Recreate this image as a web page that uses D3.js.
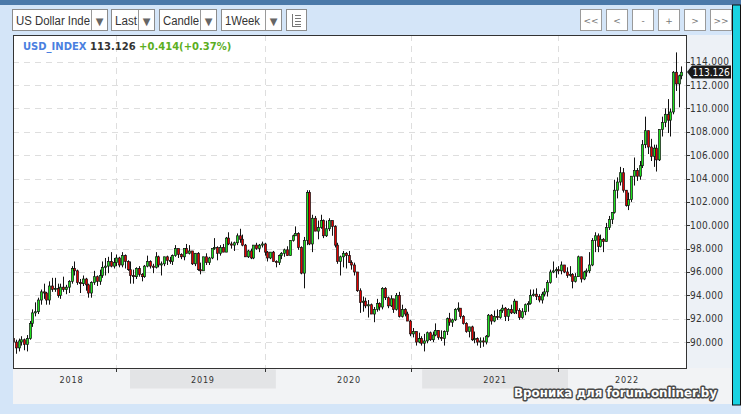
<!DOCTYPE html>
<html><head><meta charset="utf-8">
<script src="https://cdn.jsdelivr.net/npm/d3@7"></script>
<style>html,body{margin:0;padding:0;background:#d4e5f8;overflow:hidden}</style>
</head><body><svg id="c" width="741" height="414"></svg>
<script>
// ---------- data ----------
const symbol = "USD_INDEX", lastPrice = 113.126, change = 0.414, changePct = 0.37;
const yTicks = [90, 92, 94, 96, 98, 100, 102, 104, 106, 108, 110, 112, 114];
const yearLabels = ["2018", "2019", "2020", "2021", "2022"];
const yearStartsCal = ["2018-01-01", "2019-01-01", "2020-01-01", "2021-01-01", "2022-01-01", "2023-01-01"];
const gridDates = ["2018-11-28", "2019-12-04", "2020-12-04", "2021-12-06"];
const weekStarts = ["2018-03-12", "2019-01-07", "2020-01-06", "2021-01-04", "2022-01-03"];
const toolbarLabels = ["US Dollar Inde", "Last", "Candle", "1Week"];
const navButtons = ["<<", "<", "-", "+", ">", ">>"];
// weekly candles [open, high, low, close]
const c2018 = [[90.3,90.4,89.7,90.0],[90.0,90.2,89.0,89.5],[89.5,90.3,89.2,90.1],[90.0,90.5,89.7,90.2],[90.2,90.3,89.3,89.8],[89.8,90.6,89.2,90.3],[90.3,91.8,90.2,91.6],[91.6,92.8,91.3,92.5],[92.5,93.4,92.2,92.6],[92.6,93.8,92.4,93.6],[93.6,94.5,93.2,94.3],[94.3,95.0,93.7,94.2],[94.2,94.3,93.2,93.6],[93.6,95.2,93.2,94.8],[94.8,95.5,94.3,94.5],[94.5,95.5,94.3,94.6],[94.6,95.0,93.8,94.0],[94.0,95.0,93.7,94.7],[94.7,95.6,94.3,94.5],[94.5,94.9,94.1,94.7],[94.7,95.3,94.2,95.2],[95.2,96.5,95.0,96.3],[96.3,96.9,95.7,96.1],[96.1,96.2,94.9,95.1],[95.1,95.4,94.2,95.0],[95.0,95.7,94.8,95.4],[95.4,95.5,94.4,94.9],[94.9,95.0,93.8,94.2],[94.2,95.2,93.8,95.1],[95.1,96.1,94.9,95.6],[95.6,95.7,94.8,95.2],[95.2,96.2,94.9,95.7],[95.7,96.9,95.5,96.4],[96.4,97.2,95.7,96.5],[96.5,97.3,95.9,96.9],[96.9,97.7,96.4,96.5],[96.5,97.2,96.3,96.8],[96.8,97.5,96.5,97.2],[97.2,97.3,96.4,96.6],[96.6,97.7,96.4,97.4],[97.4,97.5,96.3,96.9],[96.9,97.0,96.1,96.2],[96.2,96.9,95.0,95.7]];
const c2019 = [[95.7,96.2,95.0,95.6],[95.6,96.4,95.4,96.3],[96.3,96.5,95.6,95.8],[95.8,95.9,95.2,95.6],[95.6,96.6,95.5,96.5],[96.5,97.4,96.4,96.9],[96.9,97.0,96.3,96.5],[96.5,96.7,95.9,96.4],[96.4,97.7,96.3,97.3],[97.3,97.4,96.4,96.6],[96.6,96.9,95.7,96.7],[96.7,97.3,96.5,97.3],[97.3,97.4,96.6,97.0],[97.0,97.3,96.7,96.9],[96.9,97.5,96.6,97.4],[97.4,98.3,97.3,98.0],[98.0,98.0,97.2,97.5],[97.5,97.6,97.1,97.3],[97.3,98.0,97.0,98.0],[98.0,98.4,97.6,97.6],[97.6,98.3,97.5,97.8],[97.8,97.8,96.6,96.7],[96.7,97.6,96.5,97.6],[97.6,97.7,96.1,96.2],[96.2,96.8,95.8,96.1],[96.1,97.3,96.1,97.3],[97.3,97.6,96.6,96.8],[96.8,97.3,96.6,97.2],[97.2,98.0,97.1,98.0],[98.0,98.9,97.9,98.1],[98.1,98.2,97.0,97.6],[97.6,98.3,97.4,98.1],[98.1,98.4,97.7,97.7],[97.7,99.0,97.7,98.9],[98.9,99.4,98.3,98.4],[98.4,98.6,98.0,98.3],[98.3,98.6,97.8,98.5],[98.5,99.3,98.3,99.1],[99.1,99.7,98.5,98.8],[98.8,99.2,98.2,98.3],[98.3,98.4,97.3,97.3],[97.3,97.9,97.2,97.8],[97.8,98.0,97.1,97.2],[97.2,98.3,97.1,98.3],[98.3,98.5,97.9,98.0],[98.0,98.4,97.7,98.3],[98.3,98.6,98.1,98.4],[98.4,98.5,97.4,97.7],[97.7,97.8,96.9,97.2],[97.2,97.7,97.1,97.7],[97.7,97.8,96.9,96.9],[96.9,97.0,96.4,96.8]];
const c2020 = [[96.8,97.5,96.6,97.4],[97.4,97.7,97.1,97.6],[97.6,98.0,97.3,97.9],[97.9,98.2,97.4,97.4],[97.4,98.7,97.4,98.7],[98.7,99.2,98.6,99.1],[99.1,99.9,99.1,99.3],[99.3,99.4,97.9,98.1],[98.1,98.2,95.8,95.9],[95.9,99.0,94.6,98.7],[98.7,103.0,98.3,102.8],[102.8,103.0,98.3,98.4],[98.4,100.9,97.7,100.6],[100.6,100.8,99.5,99.5],[99.5,100.4,98.8,99.8],[99.8,100.9,99.7,100.4],[100.4,100.5,98.9,99.1],[99.1,100.4,99.0,99.7],[99.7,100.6,99.5,100.4],[100.4,100.4,99.1,99.9],[99.9,100.0,98.1,98.3],[98.3,98.5,96.7,96.9],[96.9,97.4,95.7,97.3],[97.3,97.8,96.4,97.6],[97.6,97.7,96.3,97.4],[97.4,97.8,96.8,96.8],[96.8,97.0,96.2,96.6],[96.6,96.8,95.7,96.0],[96.0,96.0,94.3,94.4],[94.4,94.6,92.5,93.4],[93.4,93.9,92.6,93.5],[93.5,93.8,92.9,93.1],[93.1,93.6,92.1,93.2],[93.2,93.3,92.4,92.4],[92.4,93.0,91.7,92.8],[92.8,93.7,92.6,93.3],[93.3,93.4,92.7,93.0],[93.0,94.7,92.8,94.6],[94.6,94.7,93.6,93.8],[93.8,93.9,92.9,93.1],[93.1,94.0,93.0,93.7],[93.7,93.7,92.5,92.8],[92.8,94.2,92.7,94.0],[94.0,94.3,92.1,92.2],[92.2,93.2,92.1,92.8],[92.8,92.9,92.2,92.4],[92.4,92.6,91.8,91.8],[91.8,91.9,90.5,90.7],[90.7,91.2,90.4,90.9],[90.9,90.9,89.7,90.0],[90.0,90.8,89.9,90.3],[90.3,90.5,89.7,89.9]];
const c2021 = [[89.9,90.7,89.2,90.1],[90.1,90.9,89.9,90.8],[90.8,90.9,90.1,90.2],[90.2,90.9,90.0,90.6],[90.6,91.6,90.5,91.0],[91.0,91.0,90.2,90.4],[90.4,91.0,90.1,90.3],[90.3,91.0,89.7,90.9],[90.9,92.1,90.6,92.0],[92.0,92.5,91.4,91.7],[91.7,92.0,91.3,91.9],[91.9,92.9,91.8,92.8],[92.8,93.4,92.6,92.9],[92.9,92.9,92.0,92.2],[92.2,92.3,91.5,91.6],[91.6,91.7,90.8,90.9],[90.9,91.3,90.4,91.3],[91.3,91.4,90.1,90.2],[90.2,90.9,89.9,90.3],[90.3,90.4,89.7,90.0],[90.0,90.4,89.5,90.1],[90.1,90.4,89.6,90.0],[90.0,90.6,89.8,90.5],[90.5,92.4,90.4,92.3],[92.3,92.4,91.5,91.8],[91.8,92.7,91.7,92.2],[92.2,92.8,91.9,92.1],[92.1,92.8,92.0,92.7],[92.7,93.2,92.5,92.9],[92.9,93.0,91.8,92.2],[92.2,92.9,91.8,92.8],[92.8,93.2,92.4,92.5],[92.5,93.7,92.4,93.5],[93.5,93.5,92.4,92.7],[92.7,92.9,91.9,92.1],[92.1,92.9,92.0,92.6],[92.6,93.3,92.3,93.2],[93.2,93.5,92.6,93.3],[93.3,94.5,93.2,94.0],[94.0,94.5,93.9,94.1],[94.1,94.6,93.6,93.9],[93.9,94.1,93.4,93.6],[93.6,94.3,93.3,94.1],[94.1,94.6,93.9,94.3],[94.3,95.3,93.9,95.1],[95.1,96.2,95.0,96.0],[96.0,96.9,95.9,96.1],[96.1,96.4,95.5,96.2],[96.2,96.5,95.8,96.1],[96.1,96.9,95.8,96.6],[96.6,96.6,95.9,96.0],[96.0,96.4,95.5,95.7]];
const c2022 = [[95.7,96.5,95.6,95.8],[95.8,95.9,94.6,95.2],[95.2,95.9,95.1,95.6],[95.6,97.4,95.6,97.3],[97.3,97.3,95.1,95.4],[95.4,96.1,95.3,96.0],[96.0,96.3,95.6,96.1],[96.1,97.7,95.9,96.6],[96.6,98.9,96.5,98.7],[98.7,99.4,97.7,99.1],[99.1,99.3,97.7,98.2],[98.2,99.2,98.1,98.8],[98.8,98.9,97.7,98.6],[98.6,100.2,98.6,99.8],[99.8,100.8,99.6,100.5],[100.5,101.1,100.1,101.1],[101.1,103.9,101.0,103.0],[103.0,104.1,102.3,103.7],[103.7,105.0,103.4,104.5],[104.5,104.9,102.8,103.0],[103.0,103.0,101.6,101.7],[101.7,102.8,101.3,102.2],[102.2,104.2,102.0,104.2],[104.2,105.8,103.4,104.7],[104.7,104.9,103.8,104.2],[104.2,105.5,103.9,105.1],[105.1,107.3,104.9,106.9],[106.9,109.3,106.6,108.1],[108.1,108.1,106.1,106.7],[106.7,107.4,105.5,105.9],[105.9,106.9,105.0,106.6],[106.6,106.9,104.6,105.6],[105.6,108.2,105.5,108.2],[108.2,109.3,107.6,108.8],[108.8,110.0,108.4,109.5],[109.5,110.8,107.9,109.0],[109.0,110.0,107.6,109.7],[109.7,113.2,109.5,113.1],[113.1,114.8,111.5,112.1],[112.1,112.9,110.1,112.8],[112.8,113.6,112.5,113.1]];

// ---------- build ----------
const svg = d3.select("#c");
const W = 741, H = 414;
const plot = {l: 13, r: 686, t: 35, b: 368};
const P = d3.utcParse("%Y-%m-%d");

const x = d3.scaleUtc().domain([P("2019-01-01"), P("2022-01-01")]).range([130, 568]);
const y = d3.scaleLinear().domain([87.78, 116.29]).range([plot.b, plot.t]);

const candles = [];
[c2018, c2019, c2020, c2021, c2022].forEach((arr, k) => {
  const s = P(weekStarts[k]);
  arr.forEach((d, i) => candles.push({date: d3.utcDay.offset(d3.utcWeek.offset(s, i), 2), o: d[0], h: d[1], l: d[2], c: d[3]}));
});

// backgrounds
svg.append("rect").attr("width", W).attr("height", H).attr("fill", "#d4e5f8");
svg.append("rect").attr("width", W).attr("height", 5).attr("fill", "#4b79a9");
svg.append("rect").attr("x", 732.5).attr("y", 5).attr("width", 8).attr("height", 400).attr("fill", "#1ad3e2").attr("stroke", "#111").attr("stroke-width", 1);
svg.append("rect").attr("x", plot.r).attr("y", plot.t).attr("width", 46).attr("height", 370 - plot.t).attr("fill", "#edf1f6");
svg.append("rect").attr("x", plot.l).attr("y", plot.b).attr("width", 732 - plot.l).attr("height", 36).attr("fill", "#f2f3f5");
svg.append("rect").attr("x", plot.l).attr("y", plot.t).attr("width", plot.r - plot.l).attr("height", plot.b - plot.t).attr("fill", "#fff");

// year bands & labels
for (let i = 0; i < yearLabels.length; i++) {
  const x0 = Math.max(plot.l, x(P(yearStartsCal[i]))), x1 = Math.min(plot.r, x(P(yearStartsCal[i + 1])));
  if (i % 2 === 1) svg.append("rect").attr("x", x0).attr("y", 369.5).attr("width", x1 - x0).attr("height", 19).attr("fill", "#e3e4e6");
  svg.append("text").attr("x", (x0 + x1) / 2).attr("y", 382.5).attr("text-anchor", "middle")
    .attr("font-family", "DejaVu Sans Condensed, DejaVu Sans").attr("font-size", 9).attr("letter-spacing", 0.8)
    .attr("fill", "#333").text(yearLabels[i]);
}

// grid
const g = svg.append("g");
g.selectAll(".hg").data(yTicks).join("line")
  .attr("x1", plot.l).attr("x2", plot.r).attr("y1", d => Math.round(y(d)) + 0.5).attr("y2", d => Math.round(y(d)) + 0.5)
  .attr("stroke", "#dedede").attr("stroke-dasharray", "6,5");
g.selectAll(".vg").data(gridDates).join("line")
  .attr("x1", d => Math.round(x(P(d))) + 0.5).attr("x2", d => Math.round(x(P(d))) + 0.5).attr("y1", plot.t).attr("y2", plot.b)
  .attr("stroke", "#dedede").attr("stroke-dasharray", "6,5");
g.selectAll(".bt").data(gridDates).join("line")
  .attr("x1", d => Math.round(x(P(d))) + 0.5).attr("x2", d => Math.round(x(P(d))) + 0.5).attr("y1", plot.b).attr("y2", plot.b + 4)
  .attr("stroke", "#333");

// candles
svg.append("clipPath").attr("id", "pc").append("rect").attr("x", plot.l + 1).attr("y", plot.t).attr("width", plot.r - plot.l - 1).attr("height", plot.b - plot.t);
const cg = svg.append("g").attr("clip-path", "url(#pc)");
const cs = cg.selectAll("g").data(candles).join("g");
cs.append("line").attr("x1", d => Math.round(x(d.date)) + 0.5).attr("x2", d => Math.round(x(d.date)) + 0.5)
  .attr("y1", d => y(d.h)).attr("y2", d => y(d.l)).attr("stroke", "#111").attr("stroke-width", 1);
cs.append("rect").attr("x", d => Math.round(x(d.date)) - 0.5).attr("width", 2)
  .attr("y", d => y(Math.max(d.o, d.c))).attr("height", d => Math.max(1, Math.abs(y(d.o) - y(d.c))))
  .attr("fill", d => d.c >= d.o ? "#1ee01e" : "#e00000").attr("stroke", "#111").attr("stroke-width", 0.7);

// frame
svg.append("rect").attr("x", plot.l + 0.5).attr("y", plot.t + 0.5).attr("width", plot.r - plot.l).attr("height", plot.b - plot.t)
  .attr("fill", "none").attr("stroke", "#333").attr("stroke-width", 1);

// y axis labels
const ya = svg.append("g");
ya.selectAll("line").data(yTicks).join("line").attr("x1", plot.r).attr("x2", plot.r + 4)
  .attr("y1", d => Math.round(y(d)) + 0.5).attr("y2", d => Math.round(y(d)) + 0.5).attr("stroke", "#333");
ya.selectAll("text").data(yTicks).join("text").attr("x", plot.r + 4).attr("y", d => y(d) + 3.5)
  .attr("font-family", "DejaVu Sans Condensed, DejaVu Sans").attr("font-size", 10).attr("letter-spacing", 0.3).attr("fill", "#333")
  .text(d => d.toFixed(3));

// price tag
const py = y(lastPrice);
svg.append("path").attr("d", `M${plot.r + 1},${py} L${plot.r + 6},${py - 6.5} H731 V${py + 6.5} H${plot.r + 6} Z`).attr("fill", "#1a1a1a");
svg.append("text").attr("x", plot.r + 6.5).attr("y", py + 3.6).attr("font-family", "DejaVu Sans Condensed, DejaVu Sans").attr("font-size", 10)
  .attr("fill", "#fff").text(lastPrice.toFixed(3));

// legend
const lg = svg.append("text").attr("x", 23).attr("y", 50).attr("font-family", "DejaVu Sans").attr("font-weight", "bold").attr("font-size", 10);
lg.append("tspan").attr("fill", "#4a7fe0").text(symbol);
lg.append("tspan").attr("fill", "#333").text(" " + lastPrice.toFixed(3));
lg.append("tspan").attr("fill", "#5cae1e").text(` +${change.toFixed(3)}(+${changePct.toFixed(2)}%)`);

// toolbar
function select(x0, w, dx, label) {
  svg.append("rect").attr("x", x0 + 0.5).attr("y", 9.5).attr("width", w).attr("height", 21).attr("fill", "#fff").attr("stroke", "#8c8c8c");
  svg.append("line").attr("x1", dx + 0.5).attr("x2", dx + 0.5).attr("y1", 10).attr("y2", 30).attr("stroke", "#9a9a9a");
  svg.append("text").attr("x", x0 + 4).attr("y", 25).attr("font-family", "Liberation Sans, Arial").attr("font-size", 12).attr("fill", "#333")
    .attr("textLength", Math.min(dx - x0 - 5, label.length * 7)).attr("lengthAdjust", "spacingAndGlyphs").text(label);
  svg.append("text").attr("x", (dx + x0 + w) / 2 + 0.5).attr("y", 25).attr("text-anchor", "middle").attr("font-family", "DejaVu Sans")
    .attr("font-size", 10).attr("fill", "#666").text("▼");
}
select(12, 95, 91, toolbarLabels[0]);
select(111, 43, 138, toolbarLabels[1]);
select(159, 57, 200, toolbarLabels[2]);
select(221, 60, 265, toolbarLabels[3]);
svg.append("rect").attr("x", 286.5).attr("y", 9.5).attr("width", 20).attr("height", 21).attr("fill", "#fff").attr("stroke", "#8c8c8c");
const ic = svg.append("g").attr("stroke", "#777").attr("stroke-width", 1);
ic.append("line").attr("x1", 292.5).attr("x2", 292.5).attr("y1", 14).attr("y2", 26);
ic.append("line").attr("x1", 292).attr("x2", 301).attr("y1", 26.5).attr("y2", 26.5);
[15.5, 18.5, 21.5, 24.5].forEach(v => { ic.append("line").attr("x1", 295).attr("x2", 301).attr("y1", v).attr("y2", v); });

navButtons.forEach((b, i) => {
  const bx = 580.5 + i * 26;
  svg.append("rect").attr("x", bx).attr("y", 9.5).attr("width", 21).attr("height", 21).attr("fill", "#fff").attr("stroke", "#9a9a9a");
  svg.append("text").attr("x", bx + 10.5).attr("y", 23.5).attr("text-anchor", "middle").attr("font-family", "DejaVu Sans")
    .attr("font-size", 9).attr("fill", "#777").text(b);
});

// watermark
svg.append("text").attr("x", 514).attr("y", 397).attr("font-family", "DejaVu Sans").attr("font-weight", "bold").attr("font-size", 12)
  .attr("textLength", 203).attr("lengthAdjust", "spacingAndGlyphs")
  .attr("fill", "#fff").attr("stroke", "#4a4a4a").attr("stroke-width", 3).attr("stroke-linejoin", "round").attr("paint-order", "stroke")
  .text("Вроника для forum.onliner.by");
</script></body></html>
